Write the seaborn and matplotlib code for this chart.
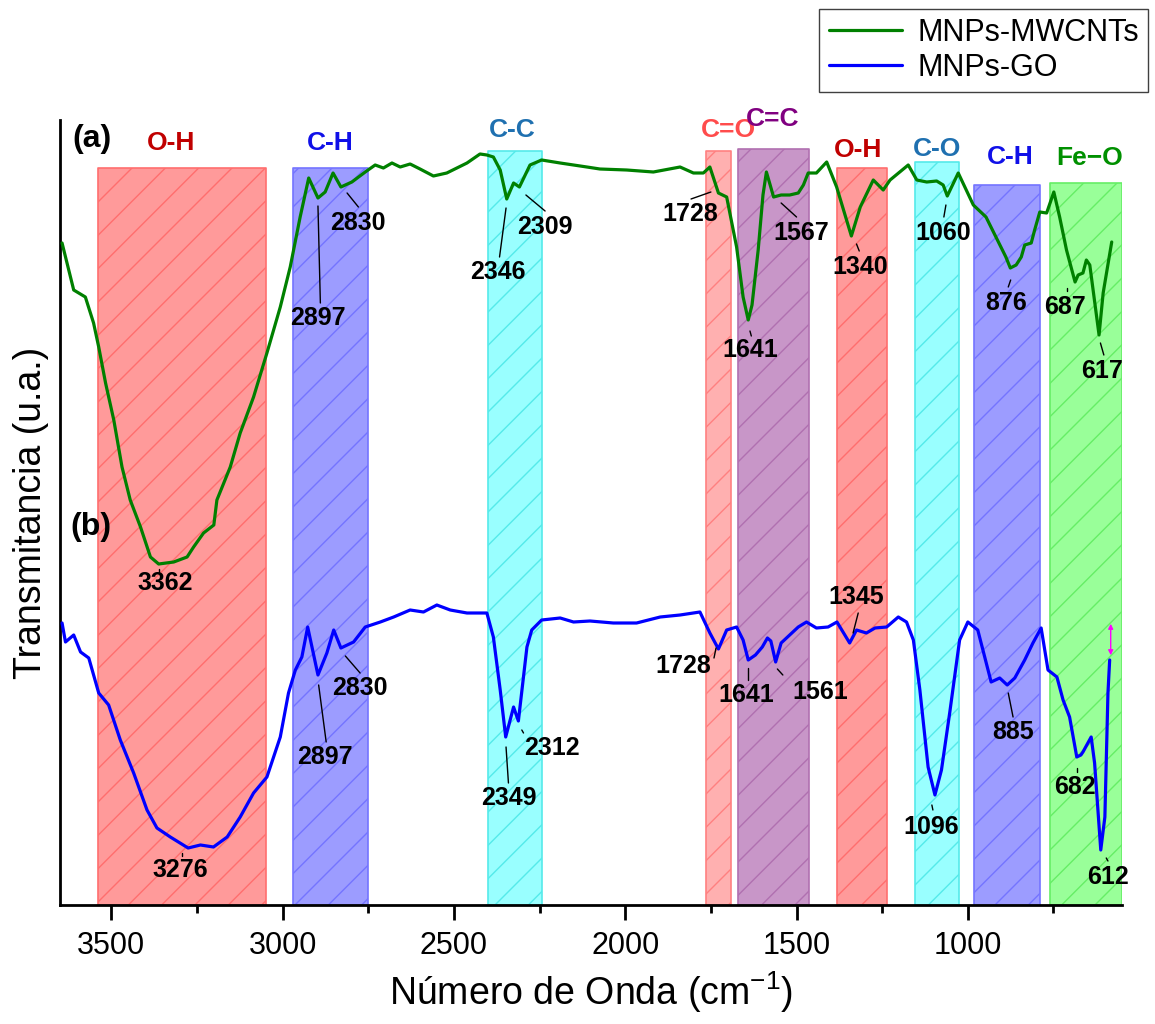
import numpy as np
import pandas as pd
import seaborn as sns
import matplotlib.pyplot as plt

sns.set_style("ticks")
plt.rcParams["font.family"] = ["Liberation Sans", "DejaVu Sans"]
plt.rcParams["mathtext.default"] = "regular"
plt.rcParams["hatch.linewidth"] = 1.0
for key in ["text.color", "axes.labelcolor", "xtick.color", "ytick.color"]:
    plt.rcParams[key] = "black"

# ---------------- spectra (wavenumber in cm-1, transmittance in a.u.) ----------------
mwcnt_wn = [3644, 3610, 3576, 3552, 3537, 3517, 3493, 3469, 3445, 3415, 3386, 3362, 3318,
            3279, 3260, 3231, 3201, 3192, 3153, 3124, 3085, 3046, 3007, 2978, 2949, 2924,
            2897, 2876, 2853, 2830, 2798, 2759, 2730, 2706, 2681, 2657, 2628, 2599, 2560,
            2521, 2462, 2424, 2404, 2385, 2365, 2346, 2326, 2309, 2278, 2244, 2190, 2112,
            2074, 1996, 1918, 1840, 1801, 1772, 1753, 1728, 1704, 1675, 1656, 1641, 1630,
            1612, 1598, 1588, 1577, 1567, 1545, 1520, 1495, 1480, 1466, 1442, 1412, 1383,
            1340, 1314, 1276, 1247, 1227, 1174, 1149, 1120, 1091, 1072, 1060, 1028, 984,
            947, 918, 889, 876, 859, 844, 834, 815, 805, 790, 770, 749, 732, 712, 687, 678,
            664, 654, 644, 617, 605, 580]
mwcnt_t = [6.62, 6.15, 6.08, 5.82, 5.58, 5.22, 4.85, 4.38, 4.05, 3.78, 3.48, 3.41, 3.43,
           3.48, 3.58, 3.72, 3.80, 4.05, 4.38, 4.72, 5.08, 5.52, 5.98, 6.38, 6.88, 7.27,
           7.07, 7.13, 7.32, 7.18, 7.23, 7.33, 7.40, 7.37, 7.42, 7.38, 7.41, 7.36, 7.29,
           7.32, 7.42, 7.51, 7.50, 7.48, 7.35, 7.06, 7.22, 7.18, 7.40, 7.45, 7.42, 7.38,
           7.36, 7.35, 7.33, 7.38, 7.32, 7.32, 7.38, 7.12, 7.08, 6.58, 6.08, 5.85, 6.00,
           6.55, 7.10, 7.33, 7.20, 7.08, 7.10, 7.10, 7.12, 7.20, 7.32, 7.32, 7.43, 7.18,
           6.69, 6.98, 7.25, 7.15, 7.25, 7.40, 7.25, 7.23, 7.24, 7.20, 7.09, 7.32, 7.00,
           6.88, 6.68, 6.48, 6.37, 6.40, 6.48, 6.60, 6.62, 6.75, 6.93, 6.92, 7.13, 6.88,
           6.55, 6.23, 6.30, 6.32, 6.45, 6.40, 5.70, 6.12, 6.63]

go_wn = [3644, 3634, 3610, 3590, 3566, 3537, 3508, 3474, 3435, 3396, 3367, 3328, 3276,
         3240, 3202, 3162, 3124, 3085, 3046, 3007, 2983, 2963, 2944, 2927, 2897, 2871,
         2851, 2830, 2793, 2759, 2715, 2676, 2628, 2589, 2550, 2511, 2462, 2424, 2404,
         2385, 2365, 2349, 2326, 2312, 2287, 2273, 2244, 2190, 2151, 2103, 2035, 1967,
         1898, 1840, 1782, 1753, 1728, 1704, 1675, 1656, 1641, 1620, 1600, 1585, 1575,
         1561, 1545, 1520, 1495, 1471, 1442, 1408, 1382, 1345, 1325, 1296, 1271, 1237,
         1203, 1179, 1159, 1140, 1116, 1096, 1077, 1053, 1024, 1000, 971, 932, 907, 885,
         863, 834, 810, 786, 766, 740, 722, 703, 682, 670, 664, 640, 630, 612, 600, 591,
         586]
go_t = [2.82, 2.63, 2.70, 2.53, 2.47, 2.12, 2.00, 1.65, 1.32, 0.95, 0.77, 0.68, 0.57,
        0.60, 0.58, 0.68, 0.88, 1.12, 1.28, 1.68, 2.12, 2.35, 2.48, 2.78, 2.30, 2.52,
        2.75, 2.57, 2.63, 2.78, 2.83, 2.88, 2.95, 2.93, 3.00, 2.95, 2.92, 2.92, 2.92,
        2.68, 2.15, 1.68, 1.98, 1.84, 2.58, 2.75, 2.85, 2.87, 2.83, 2.84, 2.82, 2.82,
        2.88, 2.90, 2.93, 2.72, 2.56, 2.75, 2.78, 2.65, 2.45, 2.50, 2.58, 2.67, 2.64,
        2.43, 2.62, 2.70, 2.78, 2.83, 2.77, 2.78, 2.83, 2.62, 2.75, 2.72, 2.77, 2.78,
        2.88, 2.83, 2.65, 2.15, 1.38, 1.10, 1.35, 1.92, 2.65, 2.83, 2.75, 2.23, 2.27,
        2.20, 2.27, 2.45, 2.62, 2.77, 2.35, 2.28, 2.05, 1.88, 1.48, 1.50, 1.53, 1.68,
        1.42, 0.55, 0.88, 2.12, 2.45]

series_names = ["MNPs-MWCNTs", "MNPs-GO"]
series_colors = ["#008000", "#0000FF"]

# ---------------- assignment bands ----------------
band_names = ["O-H", "C-H", "C-C", "C=O", "C=C", "O-H", "C-O", "C-H", "Fe\u2212O"]
band_lo = [3540, 2971, 2402, 1764, 1670, 1383, 1155, 982, 759]
band_hi = [3048, 2750, 2244, 1691, 1464, 1237, 1026, 788, 549]
band_top = [7.37, 7.37, 7.54, 7.54, 7.56, 7.37, 7.43, 7.20, 7.22]
band_face = ["#FF9A9A", "#9C9CFF", "#99FFFF", "#FFB0B0", "#C896C8", "#FF9A9A", "#99FFFF",
             "#9C9CFF", "#99FF99"]
band_edge = ["#FF6E6E", "#7474FF", "#55EAEA", "#FF8080", "#B070B0", "#FF6E6E", "#55EAEA",
             "#7474FF", "#66EE66"]
band_text_color = ["#C00000", "#1010E8", "#1F70B0", "#FF4C4C", "#800080", "#C00000",
                   "#1F70B0", "#1010E8", "#009000"]
band_text_x = [3325, 2861, 2330, 1700, 1569, 1321, 1090, 877, 644]
band_text_y = [7.62, 7.62, 7.75, 7.75, 7.86, 7.55, 7.56, 7.48, 7.47]

# ---------------- peak labels: text, text position, leader line ----------------
peak_text = ["3362", "2897", "2830", "2346", "2309", "1728", "1641", "1567", "1340", "1060",
             "876", "687", "617",
             "3276", "2897", "2830", "2349", "2312", "1728", "1641", "1561", "1345", "1096",
             "885", "682", "612"]
peak_tx = [3342, 2896, 2780, 2371, 2234, 1811, 1636, 1485, 1315, 1072, 887, 717, 609,
           3299, 2876, 2774, 2341, 2214, 1831, 1646, 1432, 1325, 1106, 868, 688, 591]
peak_ty = [3.22, 5.87, 6.82, 6.33, 6.78, 6.91, 5.55, 6.72, 6.38, 6.72, 6.02, 5.98, 5.34,
           0.35, 1.48, 2.17, 1.07, 1.57, 2.39, 2.10, 2.13, 3.08, 0.78, 1.73, 1.18, 0.28]
lead_x0 = [3362, 2897, 2812, 2348, 2290, 1808, 1636, 1545, 1325, 1064, 875, 711, 613,
           3294, 2895, 2817, 2348, 2302, 1741, 1641, 1556, 1320, 1102, 882, 681, 596]
lead_x1 = [3362, 2890, 2779, 2367, 2234, 1750, 1632, 1500, 1317, 1070, 882, 711, 603,
           3294, 2873, 2774, 2341, 2297, 1735, 1641, 1540, 1335, 1105, 868, 681, 591]
lead_y0 = [3.36, 6.99, 7.12, 6.97, 7.10, 7.06, 5.74, 7.02, 6.61, 7.00, 6.25, 6.17, 5.62,
           0.52, 2.20, 2.49, 1.58, 1.75, 2.47, 2.37, 2.36, 2.92, 0.95, 2.12, 1.37, 0.47]
lead_y1 = [3.33, 6.02, 6.98, 6.48, 6.94, 7.13, 5.69, 6.88, 6.54, 6.88, 6.18, 6.14, 5.50,
           0.49, 1.63, 2.32, 1.22, 1.72, 2.57, 2.25, 2.30, 2.72, 1.00, 1.88, 1.33, 0.44]

# ---------------- figure ----------------
fig = plt.figure(figsize=(11.55, 10.24), dpi=100)
ax = fig.add_axes([60 / 1155, 119 / 1024, (1122 - 60) / 1155, (905 - 120) / 1024])

for lo, hi, top, fc, ec in zip(band_lo, band_hi, band_top, band_face, band_edge):
    ax.fill_between([lo, hi], 0, top, facecolor=fc, edgecolor=ec, hatch="/",
                    linewidth=1.2, zorder=1)

df = pd.concat([
    pd.DataFrame({"wavenumber": mwcnt_wn, "T": mwcnt_t, "sample": series_names[0]}),
    pd.DataFrame({"wavenumber": go_wn, "T": go_t, "sample": series_names[1]}),
])
sns.lineplot(data=df, x="wavenumber", y="T", hue="sample", hue_order=series_names,
             palette=dict(zip(series_names, series_colors)), estimator=None,
             linewidth=2.3, ax=ax, zorder=3)

handles, labels = ax.get_legend_handles_labels()
ax.get_legend().remove()
fig.legend(handles, labels, loc="upper right", bbox_to_anchor=(1148 / 1155, 1 - 9 / 1024),
           frameon=True, fancybox=False, edgecolor="#404040", framealpha=1,
           fontsize=22, handlelength=2.4, labelspacing=0.15, borderpad=0.3,
           handletextpad=0.5, borderaxespad=0)

# band labels
for name, x, y, c in zip(band_names, band_text_x, band_text_y, band_text_color):
    ax.text(x, y, name, color=c, fontsize=19, fontweight="bold", ha="center", va="center")

# peak labels and leader lines
for t, x, y in zip(peak_text, peak_tx, peak_ty):
    ax.text(x, y, t, fontsize=18, fontweight="bold", ha="center", va="center", zorder=5)
for x0, x1, y0, y1 in zip(lead_x0, lead_x1, lead_y0, lead_y1):
    ax.plot([x0, x1], [y0, y1], color="black", lw=1, zorder=4)

# tiny marker at the end of the GO trace
ax.annotate("", xy=(583, 2.84), xytext=(583, 2.47),
            arrowprops=dict(arrowstyle="<|-|>", color="magenta", lw=1, mutation_scale=7))

ax.text(3558, 7.66, "(a)", fontsize=23, fontweight="bold", ha="center", va="center")
ax.text(3561, 3.78, "(b)", fontsize=23, fontweight="bold", ha="center", va="center")

ax.set_xlim(3650, 550)
ax.set_ylim(0, 7.85)
ax.set_yticks([])
ax.set_xticks([3500, 3000, 2500, 2000, 1500, 1000])
ax.set_xticks([3250, 2750, 2250, 1750, 1250, 750], minor=True)
ax.tick_params(axis="x", which="major", length=11, width=2, labelsize=22, pad=8,
               direction="out")
ax.tick_params(axis="x", which="minor", length=6, width=2, direction="out")
sns.despine(ax=ax)
for s in ["left", "bottom"]:
    ax.spines[s].set_linewidth(2)
    ax.spines[s].set_color("black")

ax.set_xlabel("Número de Onda (cm$^{-1}$)", fontsize=27, labelpad=6)
ax.set_ylabel("Transmitancia (u.a.)", fontsize=27, labelpad=8)

fig.savefig("out.png", dpi=100)
